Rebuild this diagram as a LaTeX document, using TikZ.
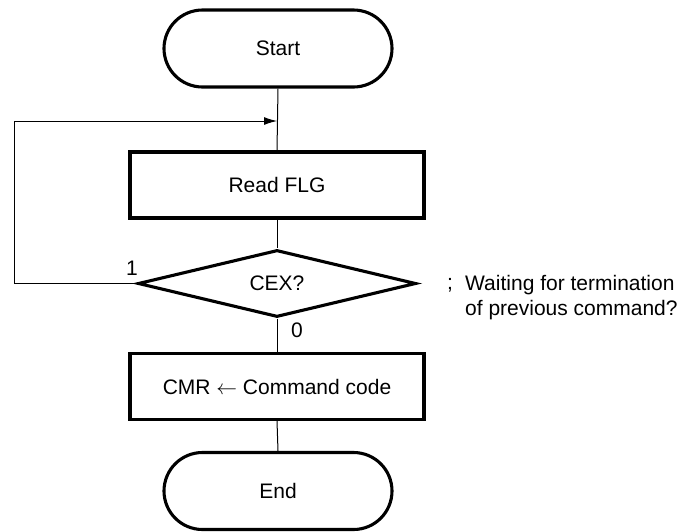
\documentclass[tikz,border=0pt]{standalone}
\usepackage{fontspec}
\setmainfont{Liberation Sans}
\usetikzlibrary{shapes.geometric,shapes.misc,arrows.meta}
\begin{document}
\begin{tikzpicture}[x=1pt,y=-1pt,
  every node/.style={font=\fontsize{21}{25}\selectfont, inner sep=0pt},
  term/.style={draw, line width=3.1pt, rounded rectangle, minimum width=228pt, minimum height=77pt},
  proc/.style={draw, line width=3.1pt, rectangle, minimum width=294pt, minimum height=66pt},
  decide/.style={draw, line width=3.1pt, diamond, aspect=4.06, minimum width=278pt, minimum height=67pt},
  conn/.style={line width=1pt},
  lbl/.style={font=\fontsize{21}{25}\selectfont}
]
\useasboundingbox (0,0) rectangle (681,531);
\node[term] (start) at (278,48.5) {Start};
\node[proc] (read) at (277,185) {Read FLG};
\node[decide] (dec) at (277,283.5) {CEX?};
\node[proc] (cmr) at (277,386.5) {CMR $\leftarrow$ Command code};
\node[term] (end) at (278,491) {End};
\coordinate (loopin) at (277,121);
\coordinate (loopcorner) at (14,283.5);
\node[lbl] (one) at (132,268) {1};
\node[lbl] (zero) at (297,330) {0};
\node[lbl, anchor=center] (semi) at (450,285) {;};
\node[lbl, anchor=west, align=left] (cmt) at (465,297.5) {Waiting for termination\\of previous command?};
\draw[conn] (start.south) -- (read.north);
\draw[conn] (read.south) -- (dec.north);
\draw[conn] (dec.south) -- (cmr.north);
\draw[conn] (cmr.south) -- (end.north);
\draw[conn, -{Latex[length=13pt,width=8pt]}] (dec.west) -- (loopcorner) |- (loopin);
\end{tikzpicture}
\end{document}
